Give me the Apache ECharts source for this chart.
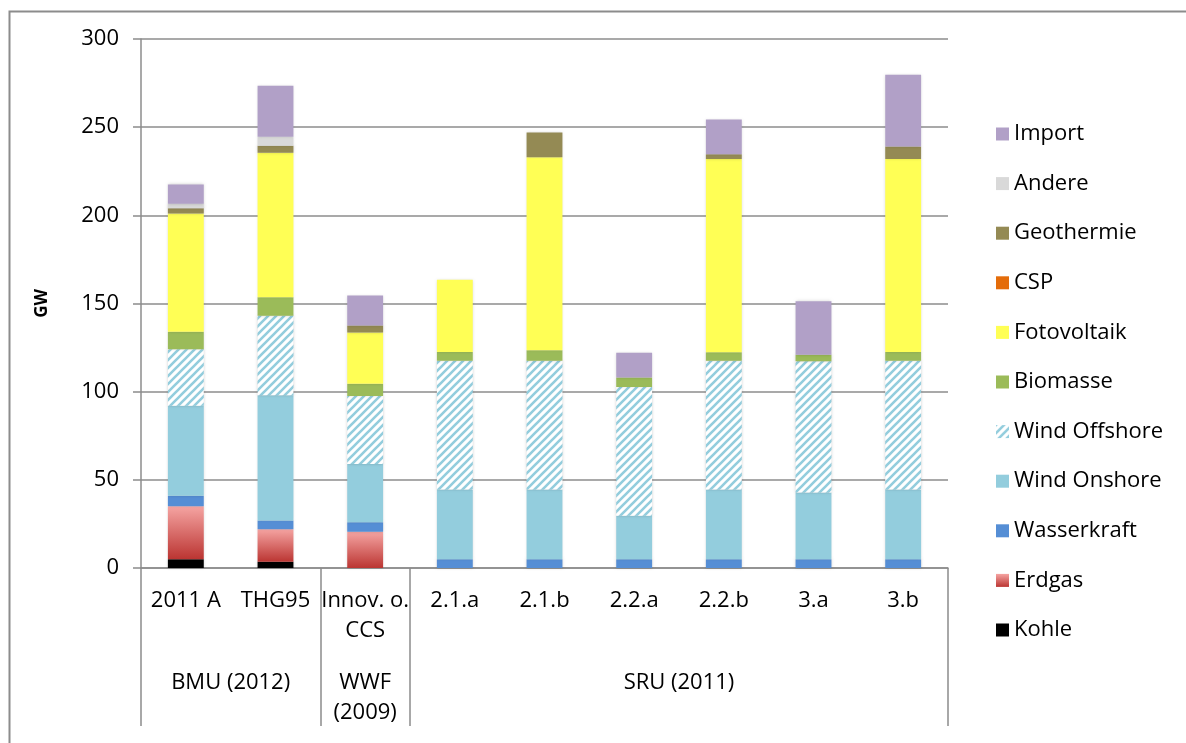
<!DOCTYPE html>
<html>
<head>
<meta charset="utf-8">
<script src="https://cdn.jsdelivr.net/npm/echarts@6/dist/echarts.min.js"></script>
<style>
html,body{margin:0;padding:0;background:#fff;}
#chart{width:1186px;height:743px;}
</style>
</head>
<body>
<div id="chart"></div>
<script>
// ---- data ----
const categories = ['2011 A', 'THG95', 'Innov. o.\nCCS', '2.1.a', '2.1.b', '2.2.a', '2.2.b', '3.a', '3.b'];
const groupLabels = ['BMU (2012)', 'WWF\n(2009)', 'SRU (2011)'];
const groupCenters = [1, 2.5, 6];      // in category units
const groupBounds = [0, 2, 3, 9];       // in category units
const yTicks = [0, 50, 100, 150, 200, 250, 300];

const seriesNames = ['Kohle', 'Erdgas', 'Wasserkraft', 'Wind Onshore', 'Wind Offshore', 'Biomasse', 'Fotovoltaik', 'CSP', 'Geothermie', 'Andere', 'Import'];
const kohle        = [5, 3.5, 0, 0, 0, 0, 0, 0, 0];
const erdgas       = [30, 18.5, 20.5, 0, 0, 0, 0, 0, 0];
const wasserkraft  = [6, 5, 5.5, 5, 5, 5, 5, 5, 5];
const windOnshore  = [51, 71, 33, 39.5, 39.5, 24.7, 39.5, 37.8, 39.5];
const windOffshore = [32, 45, 38.5, 73, 73, 73, 73, 74.4, 73];
const biomasse     = [10, 10.5, 7, 5, 6, 5.3, 4.8, 3.8, 5];
const fotovoltaik  = [67, 82, 29, 41, 109.5, 0, 109.6, 0, 109.5];
const csp          = [0, 0, 0, 0, 0, 0, 0, 0, 0];
const geothermie   = [3, 4, 4, 0, 14, 0, 2.7, 0, 7];
const andere       = [2.5, 5, 0, 0, 0, 0, 0, 0, 0];
const importe      = [11, 29, 17, 0, 0, 14, 19.7, 30.3, 40.7];
const seriesValues = [kohle, erdgas, wasserkraft, windOnshore, windOffshore, biomasse, fotovoltaik, csp, geothermie, andere, importe];

// ---- styles ----
function hatch() {
  const c = document.createElement('canvas');
  const s = 8;
  c.width = s; c.height = s;
  const g = c.getContext('2d');
  g.fillStyle = '#ffffff';
  g.fillRect(0, 0, s, s);
  g.strokeStyle = '#93cddd';
  g.lineWidth = 2.6;
  g.beginPath();
  g.moveTo(-2, s + 2); g.lineTo(s + 2, -2);
  g.moveTo(-2, 2); g.lineTo(2, -2);
  g.moveTo(s - 2, s + 2); g.lineTo(s + 2, s - 2);
  g.stroke();
  return { image: c, repeat: 'repeat' };
}
const colors = {
  'Kohle': '#000000',
  'Erdgas': { type: 'linear', x: 0, y: 0, x2: 0, y2: 1, colorStops: [{ offset: 0, color: '#f5a4a2' }, { offset: 1, color: '#bb3532' }] },
  'Wasserkraft': '#558ed5',
  'Wind Onshore': '#93cddd',
  'Wind Offshore': hatch(),
  'Biomasse': '#9bbb59',
  'Fotovoltaik': '#ffff55',
  'CSP': '#e46c0a',
  'Geothermie': '#948a54',
  'Andere': '#d9d9d9',
  'Import': '#b1a0c7'
};

const FONT = '"Open Sans", "DejaVu Sans", sans-serif';
const GRAY = '#8c8c8c';

const chart = echarts.init(document.getElementById('chart'), null, { renderer: 'canvas' });

const series = seriesNames.map((name, i) => ({
  name: name,
  type: 'bar',
  stack: 'total',
  barWidth: '40%',
  xAxisIndex: 0,
  data: seriesValues[i],
  itemStyle: {
    color: colors[name],
    shadowBlur: 3,
    shadowColor: 'rgba(0,0,0,0.18)'
  },
  emphasis: { disabled: true },
  animation: false
}));

const option = {
  animation: false,
  backgroundColor: '#ffffff',
  grid: { left: 141, right: 238, top: 39, bottom: 175 },
  legend: {
    orient: 'vertical',
    left: 991,
    top: 117,
    data: seriesNames.slice().reverse(),
    icon: 'rect',
    itemWidth: 13,
    itemHeight: 13,
    itemGap: 25.6,
    selectedMode: false,
    textStyle: { fontFamily: FONT, fontSize: 22, color: '#000', lineHeight: 24 }
  },
  xAxis: [
    {
      type: 'category',
      data: categories,
      position: 'bottom',
      axisLine: { show: true, lineStyle: { color: GRAY, width: 1.5 } },
      axisTick: { show: false },
      axisLabel: {
        interval: 0,
        margin: 18,
        verticalAlign: 'top',
        fontFamily: FONT, fontSize: 22, color: '#000', lineHeight: 30
      },
      splitLine: { show: false }
    },
    {
      type: 'value',
      min: 0,
      max: 9,
      position: 'bottom',
      axisLine: { show: false },
      axisTick: {
        show: true,
        customValues: groupBounds,
        length: 158,
        lineStyle: { color: GRAY, width: 1.5 }
      },
      axisLabel: {
        customValues: groupCenters,
        formatter: function (v) {
          const idx = groupCenters.indexOf(v);
          return idx >= 0 ? groupLabels[idx] : '';
        },
        margin: 100,
        verticalAlign: 'top',
        fontFamily: FONT, fontSize: 22, color: '#000', lineHeight: 30
      },
      splitLine: { show: false }
    }
  ],
  yAxis: {
    type: 'value',
    min: yTicks[0],
    max: yTicks[yTicks.length - 1],
    interval: 50,
    name: 'GW',
    nameLocation: 'middle',
    nameGap: 90,
    nameRotate: 90,
    nameTextStyle: { fontFamily: FONT, fontSize: 17, fontWeight: 'bold', color: '#000' },
    axisLine: { show: true, lineStyle: { color: GRAY, width: 1.5 } },
    axisTick: { show: true, length: 8, lineStyle: { color: GRAY, width: 1.5 } },
    axisLabel: { margin: 22, fontFamily: FONT, fontSize: 22, color: '#000' },
    splitLine: { show: true, lineStyle: { color: GRAY, width: 1.5 } }
  },
  graphic: [
    {
      type: 'rect',
      left: 7, top: 9,
      shape: { width: 1200, height: 760 },
      style: { fill: 'none', stroke: GRAY, lineWidth: 2 },
      silent: true
    }
  ],
  series: series
};

chart.setOption(option);
</script>
</body>
</html>
